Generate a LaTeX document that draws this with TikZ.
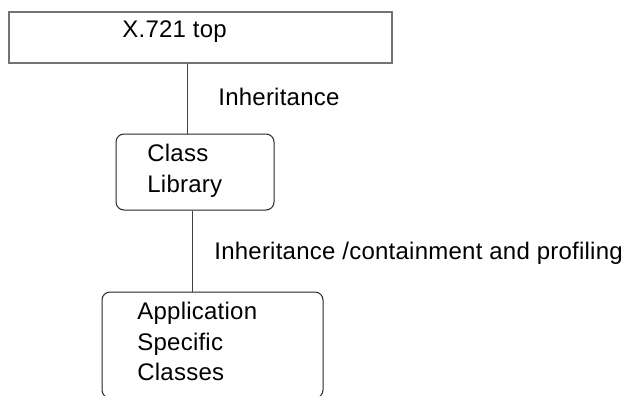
\documentclass[tikz,border=0pt]{standalone}
\usepackage{fontspec}
\setmainfont[LetterSpace=1.0]{Liberation Sans}
\usetikzlibrary{positioning}
\tikzset{every picture/.style={line width=0.75pt}}

\begin{document}
\begin{tikzpicture}[x=1pt,y=-1pt,
  font=\fontsize{24}{31}\selectfont,
  plainbox/.style={draw=black!55, line width=1.6pt, inner sep=0pt},
  roundbox/.style={draw=black!85, line width=1pt, rounded corners=8pt, inner sep=0pt},
  txt/.style={anchor=base west, inner sep=0pt},
  link/.style={draw=black!75, line width=1pt}]
\useasboundingbox (0,0) rectangle (629,396);
%
\node[plainbox, minimum width=383pt, minimum height=51pt] (top) at (200.5,37.5) {};
\node[roundbox, minimum width=158pt, minimum height=76pt] (cls) at (195,172) {};
\node[roundbox, minimum width=221pt, minimum height=106pt] (app) at (212.5,345) {};
%
\node[txt] (top1) at (122,38) {X.721 top};
\node[txt] (cls1) at (147,161) {Class};
\node[txt] (cls2) at (147,192.7) {Library};
\node[txt] (app1) at (137,319) {Application};
\node[txt] (app2) at (137,350) {Specific};
\node[txt] (app3) at (137,380) {Classes};
%
\coordinate (upx) at (187.3,0);
\coordinate (lowx) at (192.7,0);
\draw[link] (top.south -| upx) to (cls.north -| upx);
\draw[link] (cls.south -| lowx) to (app.north -| lowx);
%
\node[txt] (inh) at (218,105.7) {Inheritance};
\node[txt] (inhc) at (214,259) {Inheritance /containment and profiling};
\end{tikzpicture}
\end{document}
